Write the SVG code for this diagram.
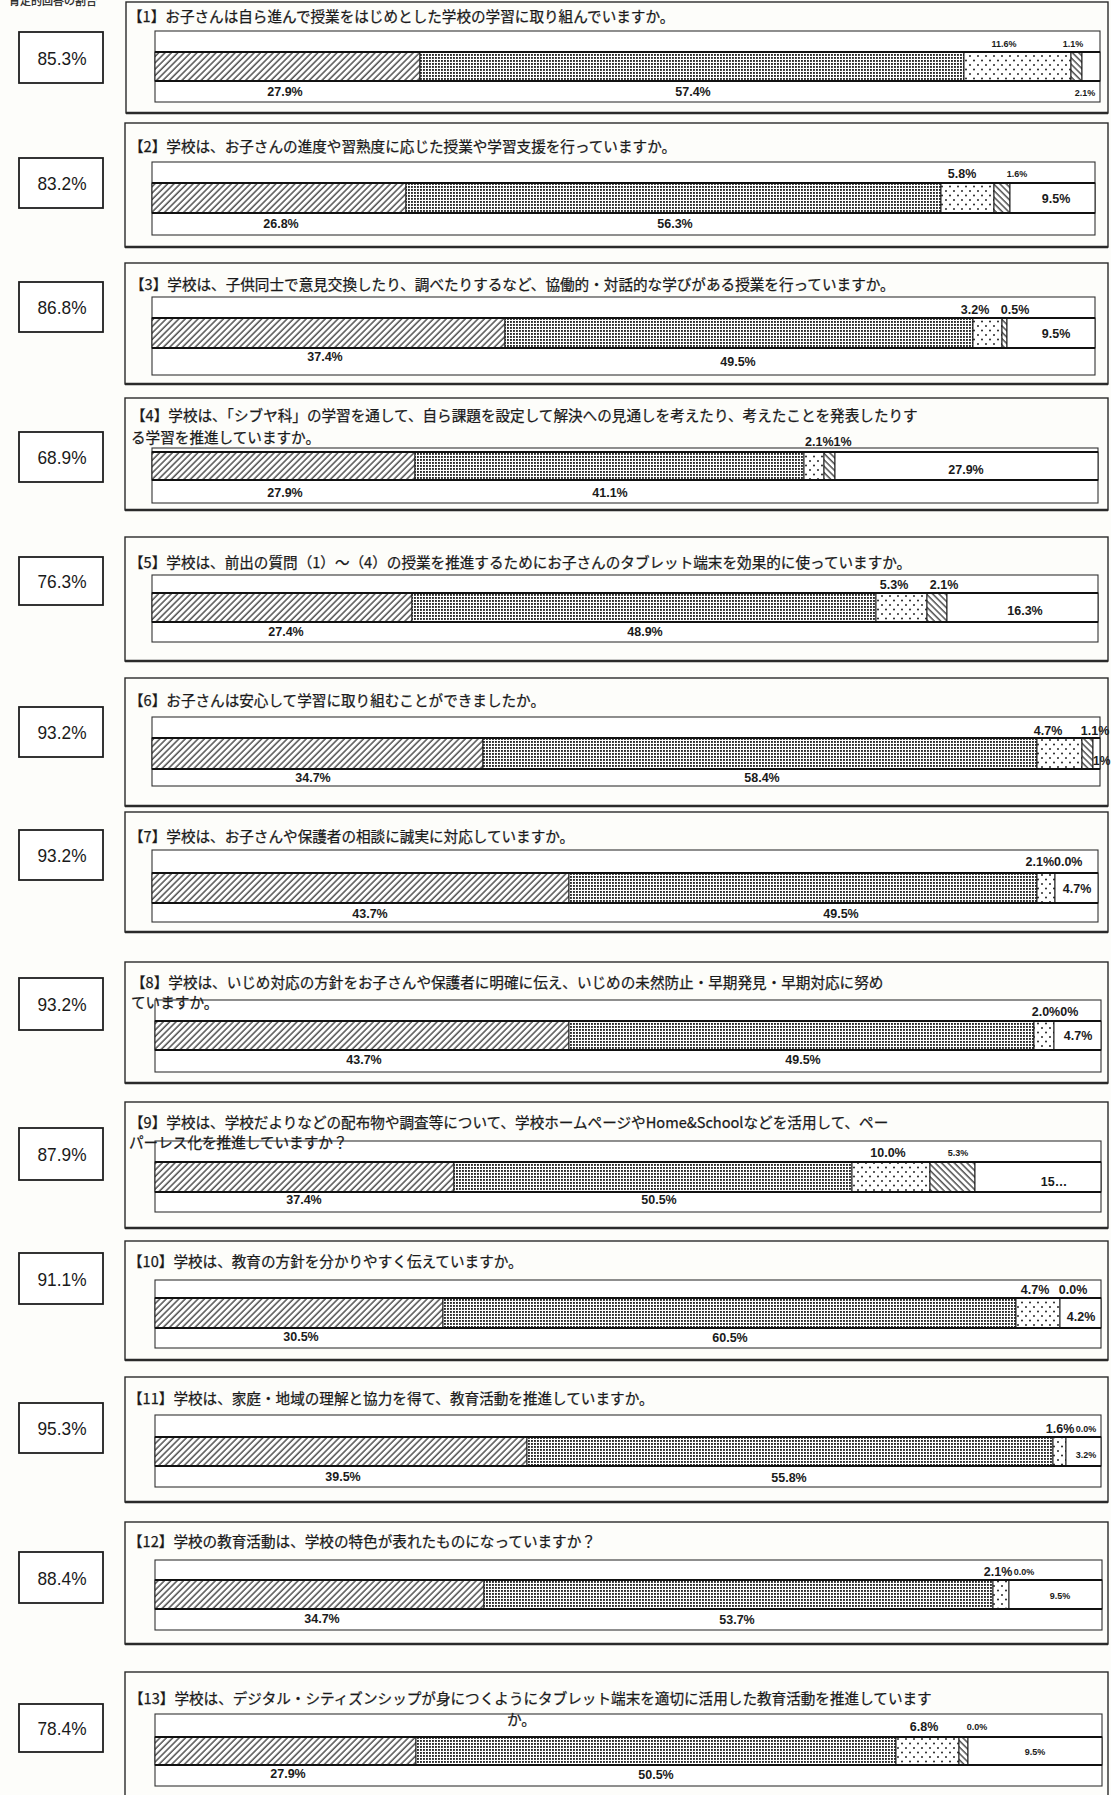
<svg xmlns="http://www.w3.org/2000/svg" width="1111" height="1795" viewBox="0 0 1111 1795">
<defs>
<pattern id="pF" width="4.5" height="4.5" patternUnits="userSpaceOnUse" patternTransform="rotate(45)"><rect width="4.5" height="4.5" fill="#fff"/><line x1="1" y1="0" x2="1" y2="4.5" stroke="#1a1a1a" stroke-width="1.15"/></pattern>
<pattern id="pB" width="4.5" height="4.5" patternUnits="userSpaceOnUse" patternTransform="rotate(-45)"><rect width="4.5" height="4.5" fill="#fff"/><line x1="1" y1="0" x2="1" y2="4.5" stroke="#1a1a1a" stroke-width="1.15"/></pattern>
<pattern id="pD" width="3" height="3" patternUnits="userSpaceOnUse"><rect width="3" height="3" fill="#fff"/><rect width="1.9" height="1.9" fill="#2a2a2a"/></pattern>
<pattern id="pS" width="8" height="9" patternUnits="userSpaceOnUse"><rect width="8" height="9" fill="#fff"/><circle cx="2" cy="2" r="0.95" fill="#1a1a1a"/><circle cx="6" cy="6.5" r="0.95" fill="#1a1a1a"/></pattern>
</defs>
<style>
.panel{fill:none;stroke:#2a2a2a;stroke-width:1.4}
.shadow{stroke:#2a2a2a;stroke-width:2.4}
.box{fill:#fff;stroke:#1e1e1e;stroke-width:1.8}
.boxt{font-family:"Liberation Sans",Arial,sans-serif;font-size:19px;text-anchor:middle;fill:#1a1a1a}
.title{font-family:"Noto Sans CJK JP","Noto Sans CJK SC",sans-serif;font-size:14.6px;fill:#1a1a1a;stroke:#1a1a1a;stroke-width:0.25}
.outer{fill:#fff;stroke:#333;stroke-width:1.1}
.seg{stroke:#1a1a1a;stroke-width:1}
.bl{stroke:#111;stroke-width:2.2}
.lbl{font-family:"Liberation Sans",Arial,sans-serif;font-size:12.5px;font-weight:bold;text-anchor:middle;fill:#1a1a1a}
.sm{font-size:9px}
.st{text-anchor:start}
.F{fill:url(#pF)}.B{fill:url(#pB)}.D{fill:url(#pD)}.S{fill:url(#pS)}.W{fill:#fff}
</style>
<rect width="1111" height="1795" fill="#fdfdfa"/>
<text x="9" y="5" class="title" style="font-size:11px">肯定的回答の割合</text>

<g id="q1">
<rect class="box" x="19" y="32" width="84" height="51"/><text class="boxt" x="62" y="65" textLength="49" lengthAdjust="spacingAndGlyphs">85.3%</text>
<rect class="panel" x="126" y="2" width="982" height="111"/><line class="shadow" x1="126" y1="113" x2="1108" y2="113"/>
<rect class="outer" x="155" y="31" width="945" height="71"/>
<rect class="seg F" x="155" y="52" width="265" height="29"/><rect class="seg D" x="420" y="52" width="544" height="29"/><rect class="seg S" x="964" y="52" width="107" height="29"/><rect class="seg B" x="1071" y="52" width="11" height="29"/><rect class="seg W" x="1082" y="52" width="18" height="29"/>
<line class="bl" x1="155" y1="52" x2="1100" y2="52"/><line class="bl" x1="155" y1="81" x2="1100" y2="81"/>
<text class="lbl sm" x="1004" y="47">11.6%</text><text class="lbl sm" x="1073" y="47">1.1%</text>
<text class="lbl" x="285" y="96">27.9%</text><text class="lbl" x="693" y="96">57.4%</text><text class="lbl sm" x="1085" y="96">2.1%</text>
<text class="title" x="128" y="22">【1】お子さんは自ら進んで授業をはじめとした学校の学習に取り組んでいますか。</text>
</g>

<g id="q2">
<rect class="box" x="19" y="158" width="84" height="50"/><text class="boxt" x="62" y="190" textLength="49" lengthAdjust="spacingAndGlyphs">83.2%</text>
<rect class="panel" x="125" y="123" width="983" height="124"/><line class="shadow" x1="125" y1="247" x2="1108" y2="247"/>
<rect class="outer" x="152" y="162" width="943" height="73"/>
<rect class="seg F" x="152" y="183" width="254" height="30"/><rect class="seg D" x="406" y="183" width="535" height="30"/><rect class="seg S" x="941" y="183" width="53" height="30"/><rect class="seg B" x="994" y="183" width="16" height="30"/><rect class="seg W" x="1010" y="183" width="85" height="30"/>
<line class="bl" x1="152" y1="183" x2="1095" y2="183"/><line class="bl" x1="152" y1="213" x2="1095" y2="213"/>
<text class="lbl" x="962" y="178">5.8%</text><text class="lbl sm" x="1017" y="177">1.6%</text>
<text class="lbl" x="1056" y="203">9.5%</text>
<text class="lbl" x="281" y="228">26.8%</text><text class="lbl" x="675" y="228">56.3%</text>
<text class="title" x="129" y="152">【2】学校は、お子さんの進度や習熟度に応じた授業や学習支援を行っていますか。</text>
</g>

<g id="q3">
<rect class="box" x="19" y="282" width="84" height="50"/><text class="boxt" x="62" y="314" textLength="49" lengthAdjust="spacingAndGlyphs">86.8%</text>
<rect class="panel" x="125" y="263" width="983" height="121"/><line class="shadow" x1="125" y1="384" x2="1108" y2="384"/>
<rect class="outer" x="152" y="297" width="943" height="78"/>
<rect class="seg F" x="152" y="318" width="353" height="30"/><rect class="seg D" x="505" y="318" width="468" height="30"/><rect class="seg S" x="973" y="318" width="29" height="30"/><rect class="seg B" x="1002" y="318" width="5" height="30"/><rect class="seg W" x="1007" y="318" width="88" height="30"/>
<line class="bl" x1="152" y1="318" x2="1095" y2="318"/><line class="bl" x1="152" y1="348" x2="1095" y2="348"/>
<text class="lbl" x="975" y="314">3.2%</text><text class="lbl" x="1015" y="314">0.5%</text>
<text class="lbl" x="1056" y="338">9.5%</text>
<text class="lbl" x="325" y="361">37.4%</text><text class="lbl" x="738" y="366">49.5%</text>
<text class="title" x="130" y="290">【3】学校は、子供同士で意見交換したり、調べたりするなど、協働的・対話的な学びがある授業を行っていますか。</text>
</g>

<g id="q4">
<rect class="box" x="19" y="432" width="84" height="50"/><text class="boxt" x="62" y="464" textLength="49" lengthAdjust="spacingAndGlyphs">68.9%</text>
<rect class="panel" x="125" y="398" width="983" height="112"/><line class="shadow" x1="125" y1="510" x2="1108" y2="510"/>
<rect class="outer" x="152" y="448" width="946" height="55"/>
<rect class="seg F" x="152" y="452" width="263" height="28"/><rect class="seg D" x="415" y="452" width="389" height="28"/><rect class="seg S" x="804" y="452" width="20" height="28"/><rect class="seg B" x="824" y="452" width="11" height="28"/><rect class="seg W" x="835" y="452" width="263" height="28"/>
<line class="bl" x1="152" y1="452" x2="1098" y2="452"/><line class="bl" x1="152" y1="480" x2="1098" y2="480"/>
<text class="lbl st" x="805" y="446">2.1%1%</text>
<text class="lbl" x="966" y="474">27.9%</text>
<text class="lbl" x="285" y="497">27.9%</text><text class="lbl" x="610" y="497">41.1%</text>
<text class="title" x="131" y="421">【4】学校は、「シブヤ科」の学習を通して、自ら課題を設定して解決への見通しを考えたり、考えたことを発表したりす</text>
<text class="title" x="131" y="443">る学習を推進していますか。</text>
</g>

<g id="q5">
<rect class="box" x="19" y="557" width="84" height="48"/><text class="boxt" x="62" y="588" textLength="49" lengthAdjust="spacingAndGlyphs">76.3%</text>
<rect class="panel" x="125" y="537" width="983" height="124"/><line class="shadow" x1="125" y1="661" x2="1108" y2="661"/>
<rect class="outer" x="152" y="575" width="946" height="67"/>
<rect class="seg F" x="152" y="593" width="260" height="29"/><rect class="seg D" x="412" y="593" width="464" height="29"/><rect class="seg S" x="876" y="593" width="51" height="29"/><rect class="seg B" x="927" y="593" width="20" height="29"/><rect class="seg W" x="947" y="593" width="151" height="29"/>
<line class="bl" x1="152" y1="593" x2="1098" y2="593"/><line class="bl" x1="152" y1="622" x2="1098" y2="622"/>
<text class="lbl" x="894" y="589">5.3%</text><text class="lbl" x="944" y="589">2.1%</text>
<text class="lbl" x="1025" y="615">16.3%</text>
<text class="lbl" x="286" y="636">27.4%</text><text class="lbl" x="645" y="636">48.9%</text>
<text class="title" x="129" y="568">【5】学校は、前出の質問（1）～（4）の授業を推進するためにお子さんのタブレット端末を効果的に使っていますか。</text>
</g>

<g id="q6">
<rect class="box" x="19" y="707" width="84" height="50"/><text class="boxt" x="62" y="739" textLength="49" lengthAdjust="spacingAndGlyphs">93.2%</text>
<rect class="panel" x="125" y="678" width="983" height="128"/><line class="shadow" x1="125" y1="806" x2="1108" y2="806"/>
<rect class="outer" x="152" y="717" width="948" height="69"/>
<rect class="seg F" x="152" y="738" width="331" height="31"/><rect class="seg D" x="483" y="738" width="554" height="31"/><rect class="seg S" x="1037" y="738" width="45" height="31"/><rect class="seg B" x="1082" y="738" width="11" height="31"/><rect class="seg W" x="1093" y="738" width="7" height="31"/>
<line class="bl" x1="152" y1="738" x2="1100" y2="738"/><line class="bl" x1="152" y1="769" x2="1100" y2="769"/>
<text class="lbl" x="1048" y="735">4.7%</text><text class="lbl" x="1095" y="735">1.1%</text>
<text class="lbl st" x="1093" y="765" style="font-size:12px">1%</text>
<text class="lbl" x="313" y="782">34.7%</text><text class="lbl" x="762" y="782">58.4%</text>
<text class="title" x="129" y="706">【6】お子さんは安心して学習に取り組むことができましたか。</text>
</g>

<g id="q7">
<rect class="box" x="19" y="830" width="84" height="50"/><text class="boxt" x="62" y="862" textLength="49" lengthAdjust="spacingAndGlyphs">93.2%</text>
<rect class="panel" x="125" y="812" width="983" height="120"/><line class="shadow" x1="125" y1="932" x2="1108" y2="932"/>
<rect class="outer" x="152" y="850" width="946" height="72"/>
<rect class="seg F" x="152" y="873" width="417" height="30"/><rect class="seg D" x="569" y="873" width="468" height="30"/><rect class="seg S" x="1037" y="873" width="18" height="30"/><rect class="seg W" x="1055" y="873" width="43" height="30"/>
<line class="bl" x1="152" y1="873" x2="1098" y2="873"/><line class="bl" x1="152" y1="903" x2="1098" y2="903"/>
<text class="lbl" x="1054" y="866">2.1%0.0%</text>
<text class="lbl" x="1077" y="893">4.7%</text>
<text class="lbl" x="370" y="918">43.7%</text><text class="lbl" x="841" y="918">49.5%</text>
<text class="title" x="129" y="842">【7】学校は、お子さんや保護者の相談に誠実に対応していますか。</text>
</g>

<g id="q8">
<rect class="box" x="19" y="978" width="84" height="52"/><text class="boxt" x="62" y="1011" textLength="49" lengthAdjust="spacingAndGlyphs">93.2%</text>
<rect class="panel" x="125" y="962" width="983" height="121"/><line class="shadow" x1="125" y1="1083" x2="1108" y2="1083"/>
<rect class="outer" x="155" y="1000" width="946" height="72"/>
<rect class="seg F" x="155" y="1021" width="414" height="29"/><rect class="seg D" x="569" y="1021" width="465" height="29"/><rect class="seg S" x="1034" y="1021" width="20" height="29"/><rect class="seg W" x="1054" y="1021" width="47" height="29"/>
<line class="bl" x1="155" y1="1021" x2="1101" y2="1021"/><line class="bl" x1="155" y1="1050" x2="1101" y2="1050"/>
<text class="lbl" x="1055" y="1016">2.0%0%</text>
<text class="lbl" x="1078" y="1040">4.7%</text>
<text class="lbl" x="364" y="1064">43.7%</text><text class="lbl" x="803" y="1064">49.5%</text>
<text class="title" x="131" y="988">【8】学校は、いじめ対応の方針をお子さんや保護者に明確に伝え、いじめの未然防止・早期発見・早期対応に努め</text>
<text class="title" x="131" y="1008">ていますか。</text>
</g>

<g id="q9">
<rect class="box" x="19" y="1128" width="84" height="52"/><text class="boxt" x="62" y="1161" textLength="49" lengthAdjust="spacingAndGlyphs">87.9%</text>
<rect class="panel" x="125" y="1102" width="983" height="126"/><line class="shadow" x1="125" y1="1228" x2="1108" y2="1228"/>
<rect class="outer" x="155" y="1141" width="946" height="71"/>
<rect class="seg F" x="155" y="1162" width="299" height="30"/><rect class="seg D" x="454" y="1162" width="398" height="30"/><rect class="seg S" x="852" y="1162" width="78" height="30"/><rect class="seg B" x="930" y="1162" width="45" height="30"/><rect class="seg W" x="975" y="1162" width="126" height="30"/>
<line class="bl" x1="155" y1="1162" x2="1101" y2="1162"/><line class="bl" x1="155" y1="1192" x2="1101" y2="1192"/>
<text class="lbl" x="888" y="1157">10.0%</text><text class="lbl sm" x="958" y="1156">5.3%</text>
<text class="lbl" x="1054" y="1186">15…</text>
<text class="lbl" x="304" y="1204">37.4%</text><text class="lbl" x="659" y="1204">50.5%</text>
<text class="title" x="129" y="1128">【9】学校は、学校だよりなどの配布物や調査等について、学校ホームページやHome&amp;Schoolなどを活用して、ペー</text>
<text class="title" x="129" y="1148">パーレス化を推進していますか？</text>
</g>

<g id="q10">
<rect class="box" x="19" y="1253" width="84" height="51"/><text class="boxt" x="62" y="1286" textLength="49" lengthAdjust="spacingAndGlyphs">91.1%</text>
<rect class="panel" x="125" y="1241" width="983" height="119"/><line class="shadow" x1="125" y1="1360" x2="1108" y2="1360"/>
<rect class="outer" x="155" y="1280" width="946" height="68"/>
<rect class="seg F" x="155" y="1298" width="288" height="30"/><rect class="seg D" x="443" y="1298" width="573" height="30"/><rect class="seg S" x="1016" y="1298" width="44" height="30"/><rect class="seg W" x="1060" y="1298" width="41" height="30"/>
<line class="bl" x1="155" y1="1298" x2="1101" y2="1298"/><line class="bl" x1="155" y1="1328" x2="1101" y2="1328"/>
<text class="lbl" x="1035" y="1294">4.7%</text><text class="lbl" x="1073" y="1294">0.0%</text>
<text class="lbl" x="1081" y="1321">4.2%</text>
<text class="lbl" x="301" y="1341">30.5%</text><text class="lbl" x="730" y="1342">60.5%</text>
<text class="title" x="128" y="1267">【10】学校は、教育の方針を分かりやすく伝えていますか。</text>
</g>

<g id="q11">
<rect class="box" x="19" y="1403" width="84" height="50"/><text class="boxt" x="62" y="1435" textLength="49" lengthAdjust="spacingAndGlyphs">95.3%</text>
<rect class="panel" x="125" y="1377" width="983" height="125"/><line class="shadow" x1="125" y1="1502" x2="1108" y2="1502"/>
<rect class="outer" x="155" y="1415" width="946" height="72"/>
<rect class="seg F" x="155" y="1437" width="372" height="29"/><rect class="seg D" x="527" y="1437" width="526" height="29"/><rect class="seg S" x="1053" y="1437" width="13" height="29"/><rect class="seg W" x="1066" y="1437" width="35" height="29"/>
<line class="bl" x1="155" y1="1437" x2="1101" y2="1437"/><line class="bl" x1="155" y1="1466" x2="1101" y2="1466"/>
<text class="lbl" x="1060" y="1433">1.6%</text><text class="lbl sm" x="1086" y="1432">0.0%</text>
<text class="lbl sm" x="1086" y="1458">3.2%</text>
<text class="lbl" x="343" y="1481">39.5%</text><text class="lbl" x="789" y="1482">55.8%</text>
<text class="title" x="128" y="1404">【11】学校は、家庭・地域の理解と協力を得て、教育活動を推進していますか。</text>
</g>

<g id="q12">
<rect class="box" x="19" y="1552" width="84" height="51"/><text class="boxt" x="62" y="1585" textLength="49" lengthAdjust="spacingAndGlyphs">88.4%</text>
<rect class="panel" x="125" y="1522" width="983" height="122"/><line class="shadow" x1="125" y1="1644" x2="1108" y2="1644"/>
<rect class="outer" x="155" y="1560" width="947" height="70"/>
<rect class="seg F" x="155" y="1580" width="329" height="29"/><rect class="seg D" x="484" y="1580" width="509" height="29"/><rect class="seg S" x="993" y="1580" width="16" height="29"/><rect class="seg W" x="1009" y="1580" width="93" height="29"/>
<line class="bl" x1="155" y1="1580" x2="1102" y2="1580"/><line class="bl" x1="155" y1="1609" x2="1102" y2="1609"/>
<text class="lbl" x="998" y="1576">2.1%</text><text class="lbl sm" x="1024" y="1575">0.0%</text>
<text class="lbl sm" x="1060" y="1599">9.5%</text>
<text class="lbl" x="322" y="1623">34.7%</text><text class="lbl" x="737" y="1624">53.7%</text>
<text class="title" x="128" y="1547">【12】学校の教育活動は、学校の特色が表れたものになっていますか？</text>
</g>

<g id="q13">
<rect class="box" x="19" y="1704" width="84" height="48"/><text class="boxt" x="62" y="1735" textLength="49" lengthAdjust="spacingAndGlyphs">78.4%</text>
<rect class="panel" x="125" y="1672" width="983" height="130"/>
<rect class="outer" x="155" y="1714" width="947" height="72"/>
<rect class="seg F" x="155" y="1737" width="261" height="28"/><rect class="seg D" x="416" y="1737" width="480" height="28"/><rect class="seg S" x="896" y="1737" width="63" height="28"/><rect class="seg B" x="959" y="1737" width="9" height="28"/><rect class="seg W" x="968" y="1737" width="134" height="28"/>
<line class="bl" x1="155" y1="1737" x2="1102" y2="1737"/><line class="bl" x1="155" y1="1765" x2="1102" y2="1765"/>
<text class="lbl" x="924" y="1731">6.8%</text><text class="lbl sm" x="977" y="1730">0.0%</text>
<text class="lbl sm" x="1035" y="1755">9.5%</text>
<text class="lbl" x="288" y="1778">27.9%</text><text class="lbl" x="656" y="1779">50.5%</text>
<text class="title" x="129" y="1704">【13】学校は、デジタル・シティズンシップが身につくようにタブレット端末を適切に活用した教育活動を推進しています</text>
<text class="title" x="507" y="1725">か。</text>
</g>
</svg>
